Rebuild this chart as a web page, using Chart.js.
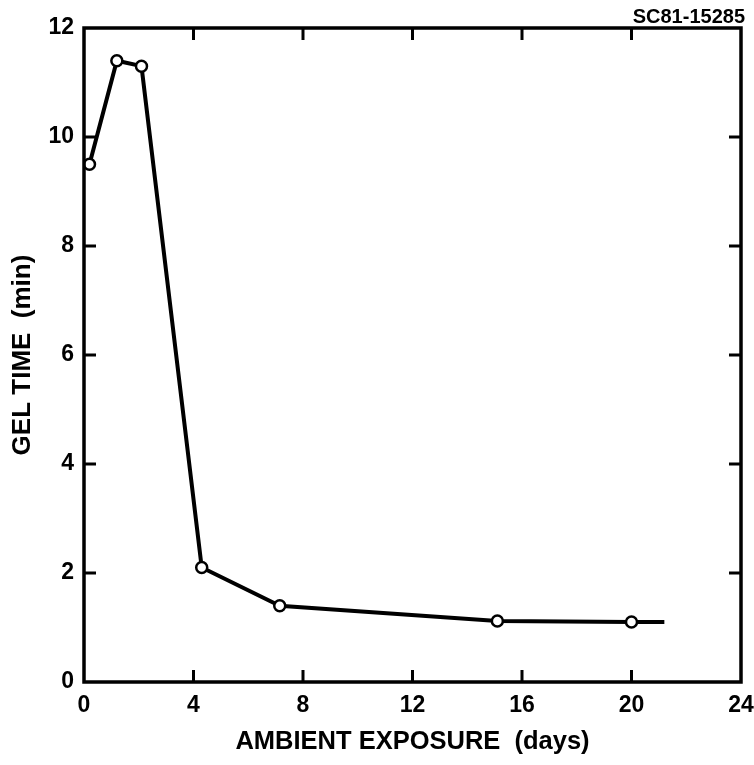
<!DOCTYPE html>
<html>
<head>
<meta charset="utf-8">
<script src="https://cdn.jsdelivr.net/npm/chart.js@4"></script>
<style>
  html, body { margin: 0; padding: 0; background: #fff; }
  #wrap { position: relative; width: 754px; height: 765px; }
</style>
</head>
<body>
<div id="wrap"><canvas id="c" width="754" height="765"></canvas></div>
<script>
// Data
const days      = [0.2, 1.2, 2.1, 4.3, 7.15, 15.1, 20.0, 21.2];
const gelTime   = [9.5, 11.4, 11.3, 2.1, 1.4, 1.12, 1.1, 1.1];
const hasMarker = [true, true, true, true, true, true, true, false];
const xTicks = [0, 4, 8, 12, 16, 20, 24];
const yTicks = [0, 2, 4, 6, 8, 10, 12];
const figureId = 'SC81-15285';
const xTitle = 'AMBIENT EXPOSURE  (days)';
const yTitle = 'GEL TIME  (min)';

const FONT = '"Liberation Sans", Arial, Helvetica, sans-serif';

const frame = {
  id: 'frame',
  afterDatasetsDraw(chart) {
    const { ctx, chartArea: a, scales: { x, y } } = chart;
    ctx.save();
    ctx.strokeStyle = '#000';
    ctx.lineWidth = 3.5;
    ctx.lineCap = 'butt';
    ctx.strokeRect(a.left, a.top, a.right - a.left, a.bottom - a.top);
    const L = 12;
    ctx.lineWidth = 3;
    ctx.beginPath();
    xTicks.forEach(v => {
      const px = x.getPixelForValue(v);
      if (v === xTicks[0] || v === xTicks[xTicks.length - 1]) return;
      ctx.moveTo(px, a.bottom); ctx.lineTo(px, a.bottom - L);
      ctx.moveTo(px, a.top); ctx.lineTo(px, a.top + L);
    });
    yTicks.forEach(v => {
      const py = y.getPixelForValue(v);
      if (v === yTicks[0] || v === yTicks[yTicks.length - 1]) return;
      ctx.moveTo(a.left, py); ctx.lineTo(a.left + L, py);
      ctx.moveTo(a.right, py); ctx.lineTo(a.right - L, py);
    });
    ctx.stroke();
    ctx.fillStyle = '#000';
    ctx.font = 'bold 20px ' + FONT;
    ctx.textAlign = 'right';
    ctx.textBaseline = 'middle';
    ctx.fillText(figureId, 745, 17);
    ctx.restore();
  }
};

new Chart(document.getElementById('c'), {
  type: 'scatter',
  data: {
    datasets: [{
      data: days.map((d, i) => ({ x: d, y: gelTime[i] })),
      showLine: true,
      borderColor: '#000',
      borderWidth: 4,
      tension: 0,
      pointRadius: hasMarker.map(m => m ? 5.5 : 0),
      pointBackgroundColor: '#fff',
      pointBorderColor: '#000',
      pointBorderWidth: 2.5
    }]
  },
  options: {
    responsive: false,
    animation: false,
    events: [],
    layout: { padding: { left: 0, right: 13, top: 28, bottom: 0 } },
    plugins: { legend: { display: false }, tooltip: { enabled: false } },
    scales: {
      x: {
        type: 'linear',
        min: 0, max: 24,
        afterBuildTicks: s => { s.ticks = xTicks.map(v => ({ value: v })); },
        afterFit: s => { s.height = 83; s.paddingLeft = 0; s.paddingRight = 0; },
        grid: { display: false, drawTicks: false },
        border: { display: false },
        ticks: { color: '#000', padding: 10, font: { family: FONT, size: 23, weight: 'bold' }, maxRotation: 0 },
        title: { display: true, text: xTitle, color: '#000', padding: { top: 0, bottom: 8 }, font: { family: FONT, size: 25.5, weight: 'bold' } }
      },
      y: {
        type: 'linear',
        min: 0, max: 12,
        afterBuildTicks: s => { s.ticks = yTicks.map(v => ({ value: v })); },
        afterFit: s => { s.width = 84; s.paddingTop = 0; s.paddingBottom = 0; },
        grid: { display: false, drawTicks: false },
        border: { display: false },
        ticks: { color: '#000', padding: 10, font: { family: FONT, size: 23, weight: 'bold' } },
        title: { display: true, text: yTitle, color: '#000', padding: { top: 7, bottom: 0 }, font: { family: FONT, size: 26, weight: 'bold' } }
      }
    }
  },
  plugins: [frame]
});
</script>
</body>
</html>
